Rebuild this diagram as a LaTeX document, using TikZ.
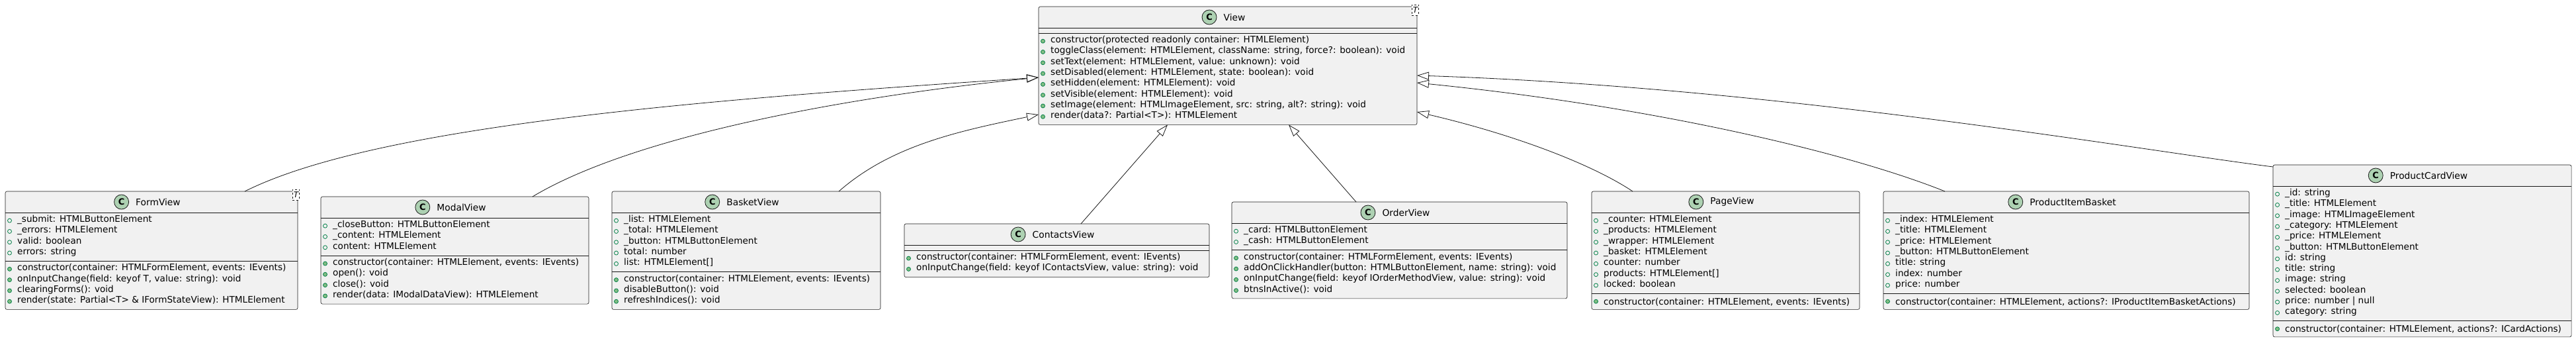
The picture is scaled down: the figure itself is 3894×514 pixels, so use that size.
\documentclass[tikz,border=0pt]{standalone}
\usepackage{fontspec}
\setmainfont{DejaVu Sans}
\usetikzlibrary{positioning, arrows.meta}

\definecolor{boxfill}{HTML}{F1F1F1}
\definecolor{boxline}{HTML}{181818}
\definecolor{spotfill}{HTML}{ADD1B2}
\definecolor{visline}{HTML}{038048}
\definecolor{visfill}{HTML}{84BE84}

\newcommand\mstrut{\rule[-3.3pt]{0pt}{16.3pt}}

% box, x, y, width, height, title
\newcommand\classbox[6]{%
  \node[class box, minimum width=#4pt, minimum height=#5pt] (#1) at (#2,#3) {};
  \node[class name] (#1 name) at ([xshift=10pt,yshift=-16pt]#1.north) {#6};
  \node[spot, left=10pt of #1 name] (#1 spot) {C};
  \draw[class sep] ([yshift=-32pt]#1.north west) -- ([yshift=-32pt]#1.north east);
}
% box, part, offset, count, marker, lines
\newcommand\members[6]{%
  \draw[class sep] ([yshift=-#3pt]#1.north west) -- ([yshift=-#3pt]#1.north east);
  \node[members] (#1 #2) at ([xshift=18pt,yshift=-#3pt-4pt]#1.north west) {#6};
  \foreach \i in {1,...,#4}
    \draw[#5] ([xshift=6.5pt,yshift={(-#3-12.15-(\i-1)*16.3)*1pt}]#1.north west) circle (3pt);
}

\begin{document}
\begin{tikzpicture}[x=1pt, y=-1pt,
  class box/.style={draw=boxline, fill=boxfill, line width=0.6pt, rounded corners=2.5pt,
    anchor=north west, inner sep=0pt, outer sep=0pt},
  class sep/.style={draw=boxline, line width=0.6pt},
  class name/.style={inner sep=0pt, font=\fontsize{13.8pt}{16.3pt}\selectfont},
  spot/.style={circle, draw=boxline, fill=spotfill, line width=0.8pt, minimum size=22pt,
    inner sep=0pt, font=\bfseries\fontsize{13pt}{13pt}\selectfont},
  members/.style={anchor=north west, inner sep=0pt, align=left,
    font=\fontsize{13.6pt}{16.3pt}\selectfont,
    execute at begin node=\mstrut, execute at end node=\mstrut},
  field/.style={draw=visline, line width=0.8pt},
  method/.style={draw=visline, fill=visfill, line width=0.8pt},
  generic/.style={draw=boxline, dashed, fill=white, line width=0.6pt, inner xsep=1.5pt,
    inner ysep=0pt, minimum height=16pt, font=\itshape\fontsize{12pt}{12pt}\selectfont},
  inh/.style={draw=boxline, line width=0.8pt, -{Triangle[open, length=18pt, width=12pt]}}]

\useasboundingbox (0,0) rectangle (3894,514);

% base class
\classbox{view}{1570}{10}{572}{178.4}{View}
\draw[class sep] ([yshift=-40pt]view.north west) -- ([yshift=-40pt]view.north east);
\members{view}{ops}{40}{8}{method}{constructor(protected readonly container: HTMLElement)\\
toggleClass(element: HTMLElement, className: string, force?: boolean): void\\
setText(element: HTMLElement, value: unknown): void\\
setDisabled(element: HTMLElement, state: boolean): void\\
setHidden(element: HTMLElement): void\\
setVisible(element: HTMLElement): void\\
setImage(element: HTMLImageElement, src: string, alt?: string): void\\
render(data?: Partial<T>): HTMLElement}
\node[generic] (view T) at ([xshift=-2.5pt,yshift=-5pt]view.north east) {T};

% subclasses
\classbox{form}{8}{289}{442}{178.4}{FormView}
\members{form}{attrs}{32}{4}{field}{\_submit: HTMLButtonElement\\
\_errors: HTMLElement\\
valid: boolean\\
errors: string}
\members{form}{ops}{105.2}{4}{method}{constructor(container: HTMLFormElement, events: IEvents)\\
onInputChange(field: keyof T, value: string): void\\
clearingForms(): void\\
render(state: Partial<T> \& IFormStateView): HTMLElement}
\node[generic] (form T) at ([xshift=-2.5pt,yshift=-5pt]form.north east) {T};

\classbox{modal}{485}{297}{405}{162.1}{ModalView}
\members{modal}{attrs}{32}{3}{field}{\_closeButton: HTMLButtonElement\\
\_content: HTMLElement\\
content: HTMLElement}
\members{modal}{ops}{88.9}{4}{method}{constructor(container: HTMLElement, events: IEvents)\\
open(): void\\
close(): void\\
render(data: IModalDataView): HTMLElement}

\classbox{basket}{925}{289}{406}{178.4}{BasketView}
\members{basket}{attrs}{32}{5}{field}{\_list: HTMLElement\\
\_total: HTMLElement\\
\_button: HTMLButtonElement\\
total: number\\
list: HTMLElement[]}
\members{basket}{ops}{121.5}{3}{method}{constructor(container: HTMLElement, events: IEvents)\\
disableButton(): void\\
refreshIndices(): void}

\classbox{contacts}{1367}{338}{461}{80.6}{ContactsView}
\members{contacts}{ops}{40}{2}{method}{constructor(container: HTMLFormElement, event: IEvents)\\
onInputChange(field: keyof IContactsView, value: string): void}

\classbox{order}{1862}{305}{507}{145.8}{OrderView}
\members{order}{attrs}{32}{2}{field}{\_card: HTMLButtonElement\\
\_cash: HTMLButtonElement}
\members{order}{ops}{72.6}{4}{method}{constructor(container: HTMLFormElement, events: IEvents)\\
addOnClickHandler(button: HTMLButtonElement, name: string): void\\
onInputChange(field: keyof IOrderMethodView, value: string): void\\
btnsInActive(): void}

\classbox{page}{2406}{289}{405}{178.4}{PageView}
\members{page}{attrs}{32}{7}{field}{\_counter: HTMLElement\\
\_products: HTMLElement\\
\_wrapper: HTMLElement\\
\_basket: HTMLElement\\
counter: number\\
products: HTMLElement[]\\
locked: boolean}
\members{page}{ops}{154.1}{1}{method}{constructor(container: HTMLElement, events: IEvents)}

\classbox{item}{2847}{289}{553}{178.4}{ProductItemBasket}
\members{item}{attrs}{32}{7}{field}{\_index: HTMLElement\\
\_title: HTMLElement\\
\_price: HTMLElement\\
\_button: HTMLButtonElement\\
title: string\\
index: number\\
price: number}
\members{item}{ops}{154.1}{1}{method}{constructor(container: HTMLElement, actions?: IProductItemBasketActions)}

\classbox{card}{3436}{249}{451}{259.9}{ProductCardView}
\members{card}{attrs}{32}{12}{field}{\_id: string\\
\_title: HTMLElement\\
\_image: HTMLImageElement\\
\_category: HTMLElement\\
\_price: HTMLElement\\
\_button: HTMLButtonElement\\
id: string\\
title: string\\
image: string\\
selected: boolean\\
price: number \textbar{} null\\
category: string}
\members{card}{ops}{235.6}{1}{method}{constructor(container: HTMLElement, actions?: ICardActions)}

% inheritance
\draw[inh] ([xshift=362pt]form.north west) .. controls +(200,-100) and +(-500,33) .. ([yshift=-107pt]view.north west);
\draw[inh] ([xshift=320pt]modal.north west) .. controls +(150,-90) and +(-300,30) .. ([yshift=-107pt]view.north west);
\draw[inh] ([xshift=343pt]basket.north west) .. controls +(80,-70) and +(-120,25) .. ([yshift=-163pt]view.north west);
\draw[inh] ([xshift=267pt]contacts.north west) -- ([xshift=195pt]view.south west);
\draw[inh] ([xshift=188pt]order.north west) -- ([xshift=378pt]view.south west);
\draw[inh] ([xshift=62pt]page.north west) .. controls +(-60,-40) and +(150,35) .. ([yshift=-159pt]view.north east);
\draw[inh] ([xshift=93pt]item.north west) .. controls +(-150,-60) and +(350,35) .. ([yshift=-115pt]view.north east);
\draw[inh] ([yshift=-3pt]card.north west) .. controls +(-200,-25) and +(550,18) .. ([yshift=-104pt]view.north east);

\end{tikzpicture}
\end{document}
